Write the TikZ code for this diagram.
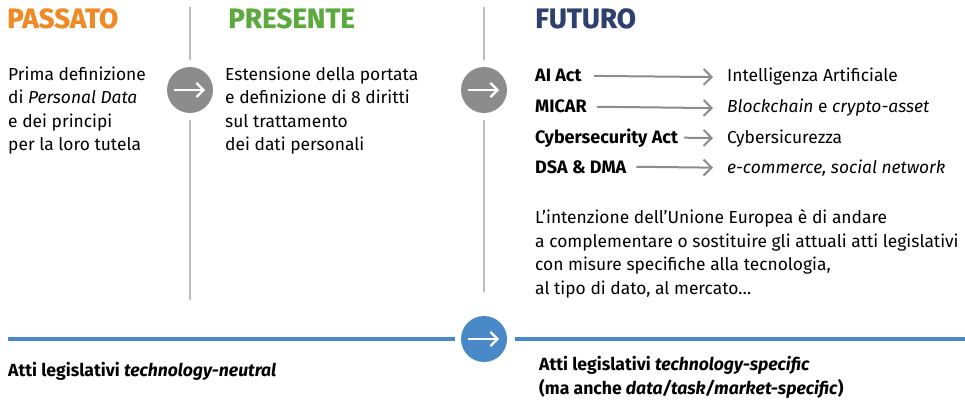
\documentclass[tikz,border=0pt]{standalone}
\usepackage{fontspec}
\setmainfont{Fira Sans}
\usetikzlibrary{arrows.meta,positioning}
\definecolor{passato}{HTML}{F08A24}
\definecolor{presente}{HTML}{5CAA3E}
\definecolor{futuro}{HTML}{2D406E}
\definecolor{timeblue}{HTML}{4A89C8}
\definecolor{circgray}{HTML}{8C8C8C}
\definecolor{sepgray}{HTML}{BDBDBD}

\begin{document}
\begin{tikzpicture}[
    x=1pt, y=-1pt,
    heading/.style={font=\fontsize{27.8}{30}\selectfont\bfseries\addfontfeatures{FakeBold=0.6},
                    anchor=base west, inner sep=0pt},
    body/.style={font=\fontsize{17.4}{23.5}\selectfont, align=left,
                 anchor=base west, inner sep=0pt},
    act/.style={font=\fontsize{18}{20}\selectfont\bfseries,
                anchor=base west, inner sep=0pt},
    field/.style={font=\fontsize{17.4}{20}\selectfont,
                  anchor=base west, inner sep=0pt},
    legis/.style={font=\fontsize{17.6}{24}\selectfont\bfseries,
                  align=left, anchor=base west, inner sep=0pt},
    stepcirc/.style={circle, fill=#1, minimum size=46pt, inner sep=0pt},
    sep/.style={draw=sepgray, line width=1.3pt},
    arr/.style={draw=circgray, line width=2pt,
                -{Straight Barb[length=8pt, width=16pt, line width=2pt]}},
    inarr/.style={draw=white, line width=2.2pt,
                  -{Straight Barb[length=7pt, width=14pt, line width=2.2pt]}},
    timeline/.style={draw=timeblue, line width=4.5pt}
  ]
  \useasboundingbox (0,0) rectangle (965,401);

  % headings
  \node[heading, text=passato] (hpas) at (7,28) {PASSATO};
  \node[heading, text=presente] (hpre) at (228,28) {PRESENTE};
  \node[heading, text=futuro] (hfut) at (535,28) {FUTURO};

  % past and present (base = last line)
  \node[body] (tpas) at (8,150.5)
    {Prima definizione\\di \textit{Personal Data}\\e dei principi\\per la loro tutela};
  \node[body] (tpre) at (225,150.5)
    {Estensione della portata\\e definizione di 8 diritti\\sul trattamento\\dei dati personali};

  % step circles
  \node[stepcirc=circgray] (c1) at (190,90) {};
  \node[stepcirc=circgray] (c2) at (484,90) {};
  \node[stepcirc=timeblue] (c3) at (484,339) {};
  \foreach \c in {c1,c2,c3}
    \draw[inarr] ([xshift=-16pt]\c.center) -- ([xshift=15pt]\c.center);

  % separators
  \coordinate (s1top) at (190,7);
  \coordinate (s1bot) at (190,300);
  \coordinate (s2top) at (484,7);
  \coordinate (s2bot) at (484,292);
  \draw[sep] (s1top) -- ([yshift=7pt]c1.north);
  \draw[sep] ([yshift=-7pt]c1.south) -- (s1bot);
  \draw[sep] (s2top) -- ([yshift=7pt]c2.north);
  \draw[sep] ([yshift=-7pt]c2.south) -- (s2bot);

  % future acts
  \node[act] (ai) at (535,82) {AI Act};
  \node[act] (micar) at (535,113) {MICAR};
  \node[act] (cyber) at (535,143) {Cybersecurity Act};
  \node[act] (dsa) at (535,173) {DSA \& DMA};
  \node[field] (fai) at (727,82) {Intelligenza Artificiale};
  \node[field] (fmicar) at (727,113) {\textit{Blockchain} e \textit{crypto-asset}};
  \node[field] (fcyber) at (727,143) {Cybersicurezza};
  \node[field] (fdsa) at (727,173) {\textit{e-commerce, social network}};
  \draw[arr] ([xshift=12pt]ai.east) -- ([xshift=-14pt]fai.west);
  \draw[arr] ([xshift=10pt]micar.east) -- ([xshift=-14pt]fmicar.west);
  \draw[arr] ([xshift=6pt]cyber.east) -- ([xshift=-14pt]fcyber.west);
  \draw[arr] ([xshift=10pt]dsa.east) -- ([xshift=-14pt]fdsa.west);

  \node[body] (intent) at (535,294)
    {L’intenzione dell’Unione Europea è di andare\\a complementare o sostituire gli attuali atti legislativi\\con misure specifiche alla tecnologia,\\al tipo di dato, al mercato…};

  % timeline
  \coordinate (tl0) at (8,339);
  \coordinate (tl1) at (965,339);
  \draw[timeline] (tl0) -- ([xshift=-6pt]c3.west);
  \draw[timeline] ([xshift=8pt]c3.east) -- (tl1);

  \node[legis] (neutral) at (8,376) {Atti legislativi \textit{technology-neutral}};
  \node[legis] (specific) at (539,394)
    {Atti legislativi \textit{technology-specific}\\(ma anche \textit{data/task/market-specific})};
\end{tikzpicture}
\end{document}
